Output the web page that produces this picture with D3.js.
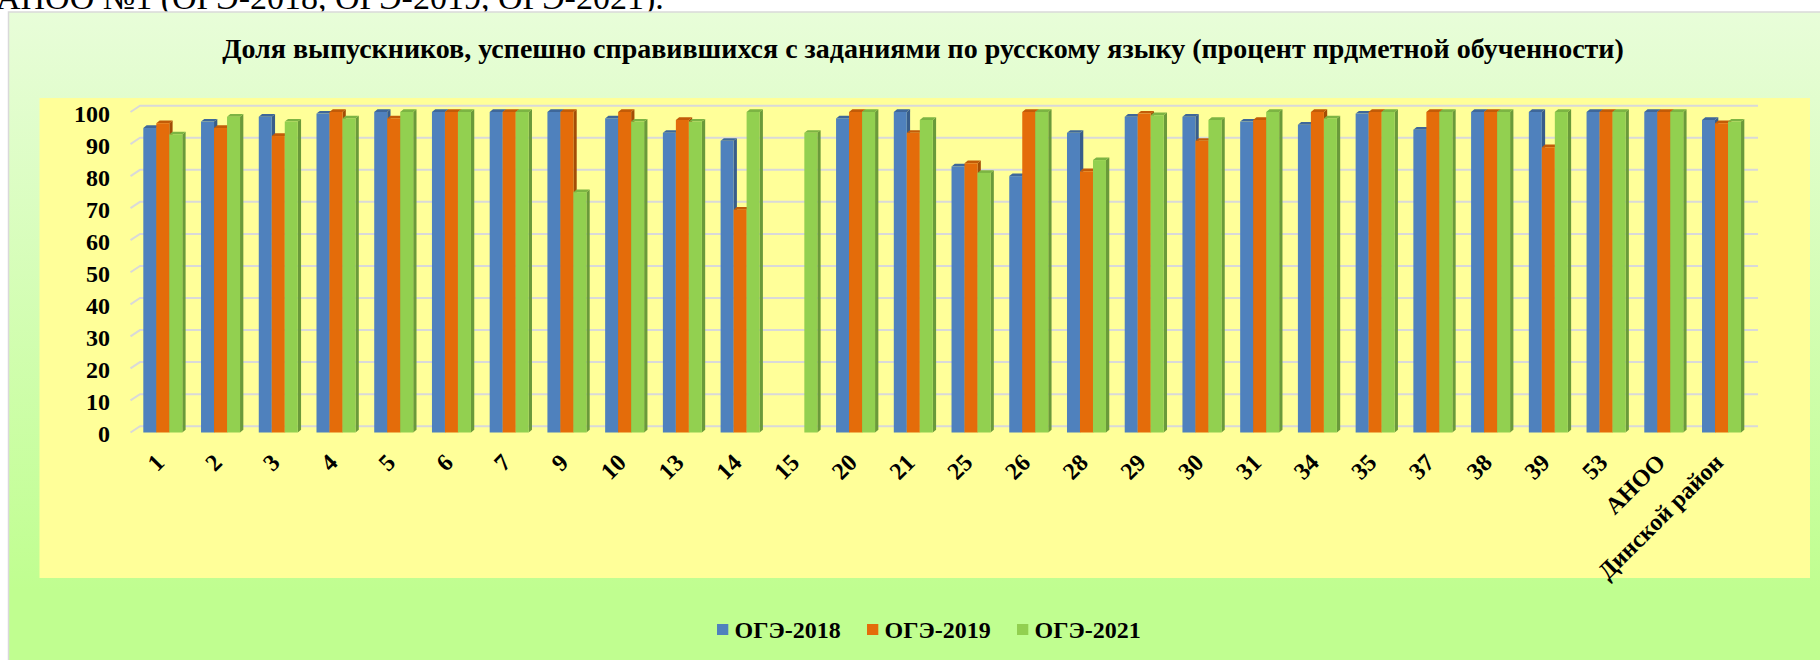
<!DOCTYPE html>
<html><head><meta charset="utf-8">
<script src="https://cdn.jsdelivr.net/npm/d3@7/dist/d3.min.js"></script>
<style>
html,body{margin:0;padding:0;background:#fff;overflow:hidden;}
svg{display:block;}
text{font-family:"Liberation Serif","Times New Roman",serif;}
</style></head>
<body>
<svg id="chart" width="1820" height="660"></svg>
<script>
const categories = ["1","2","3","4","5","6","7","9","10","13","14","15","20","21","25","26","28","29","30","31","34","35","37","38","39","53","АНОО","Динской район"];
const s2018 = [95,97,98.5,99.5,100,100,100,100,98,93.5,91,null,98,100,83,80,93.5,98.5,98.5,97,96,99.5,94.5,100,100,100,100,97.5];
const s2019 = [96.5,95,92.5,100,98,100,100,100,100,97.5,69.5,null,100,93.5,84,100,81.5,99.5,91,97.5,100,100,100,100,89,100,100,96.5];
const s2021 = [93,98.5,97,98,100,100,100,75,97,97,100,93.5,100,97.5,81,100,85,99,97.5,100,98,100,100,100,100,100,100,97];
const seriesNames = ["ОГЭ-2018","ОГЭ-2019","ОГЭ-2021"];
const seriesValues = [s2018, s2019, s2021];
const yTicks = [0,10,20,30,40,50,60,70,80,90,100];
const titleText = "Доля выпускников, успешно справившихся с заданиями по русскому языку (процент прдметной обученности)";
const headerText = "АНОО №1 (ОГЭ-2018, ОГЭ-2019, ОГЭ-2021).";

const FONT = "Liberation Serif";
const colors = {front:["#4f81bd","#e46c0a","#92d050"], side:["#385d8a","#a34d06","#6a9a3a"], top:["#3e679a","#c25b08","#7cb443"]};

const svg = d3.select("#chart");
const defs = svg.append("defs");
const g = defs.append("linearGradient").attr("id","bg").attr("gradientUnits","userSpaceOnUse")
  .attr("x1",0).attr("y1",12).attr("x2",0).attr("y2",590);
g.append("stop").attr("offset","0").attr("stop-color","#e8fdd9");
g.append("stop").attr("offset","1").attr("stop-color","#c0fe90");

// header text (cut at top, as in the source)
svg.append("text").attr("x",-4).attr("y",9).attr("font-family",FONT).attr("font-size",34).attr("fill","#000").text(headerText);

// outer chart area
svg.append("rect").attr("x",8.5).attr("y",12).attr("width",1830).attr("height",680)
  .attr("fill","url(#bg)").attr("stroke","#d9d9d9").attr("stroke-width",1.5);

// plot area
svg.append("rect").attr("x",39.5).attr("y",98).attr("width",1770.5).attr("height",480).attr("fill","#ffff99");

// title
svg.append("text").attr("x",923).attr("y",58).attr("text-anchor","middle").attr("font-size",28)
  .attr("font-family",FONT).attr("font-weight","bold").text(titleText);

const x = d3.scaleBand().domain(categories).range([133.94,1750.38]).paddingInner(0.3244).paddingOuter(0.1622);
const xs = d3.scaleBand().domain(seriesNames).range([0,x.bandwidth()]).padding(0);
const y = d3.scaleLinear().domain([0,100]).range([432.5,112]);
const DX = 9.5, DY = 6.3; // wall depth
const bdx = 3.3, bdy = 2.7; // bar depth

// gridlines
const grid = svg.append("g");
yTicks.forEach(t => {
  const yy = y(t);
  grid.append("path").attr("d",`M130.5,${yy}L${130.5+DX},${yy-DY}L1758,${yy-DY}`)
    .attr("fill","none").attr("stroke","#d9d9d9").attr("stroke-width",2);
});

// y axis labels
const yAxis = d3.axisLeft(y).tickValues(yTicks).tickSize(0).tickPadding(0);
const ya = svg.append("g").attr("transform","translate(110,1.5)").call(yAxis);
ya.select(".domain").remove();
ya.selectAll("text").attr("font-size",24).attr("font-weight","bold").attr("fill","#000")
  .attr("font-family",FONT);

// bars
const barsG = svg.append("g");
categories.forEach((c,i) => {
  seriesNames.forEach((s,k) => {
    const v = seriesValues[k][i];
    if (v == null) return;
    const x0 = x(c) + xs(s), w = xs.bandwidth();
    const yt = y(v), yb = y(0);
    barsG.append("path").attr("d",`M${x0+w},${yt}L${x0+w+bdx},${yt-bdy}L${x0+w+bdx},${yb-bdy}L${x0+w},${yb}Z`).attr("fill",colors.side[k]);
    barsG.append("path").attr("d",`M${x0},${yt}L${x0+bdx},${yt-bdy}L${x0+w+bdx},${yt-bdy}L${x0+w},${yt}Z`).attr("fill",colors.top[k]);
    barsG.append("rect").attr("x",x0).attr("y",yt).attr("width",w).attr("height",yb-yt).attr("fill",colors.front[k]);
  });
});

// x labels
const xAxis = d3.axisBottom(x).tickSize(0).tickPadding(0);
const xa = svg.append("g").attr("transform","translate(-3,458)").call(xAxis);
xa.select(".domain").remove();
xa.selectAll("text").attr("font-size",24).attr("font-weight","bold").attr("fill","#000")
  .attr("font-family",FONT)
  .attr("text-anchor","end").attr("dy","0.35em").attr("y",0)
  .attr("transform","rotate(-45)");

// legend
const lg = svg.append("g");
seriesNames.forEach((s,k) => {
  const lx = 717 + k*150;
  lg.append("rect").attr("x",lx).attr("y",624).attr("width",11.3).attr("height",11).attr("fill",colors.front[k]);
  lg.append("text").attr("x",lx+17.5).attr("y",638.3).attr("font-family",FONT).attr("font-size",24).attr("font-weight","bold").text(s);
});
</script>
</body></html>
